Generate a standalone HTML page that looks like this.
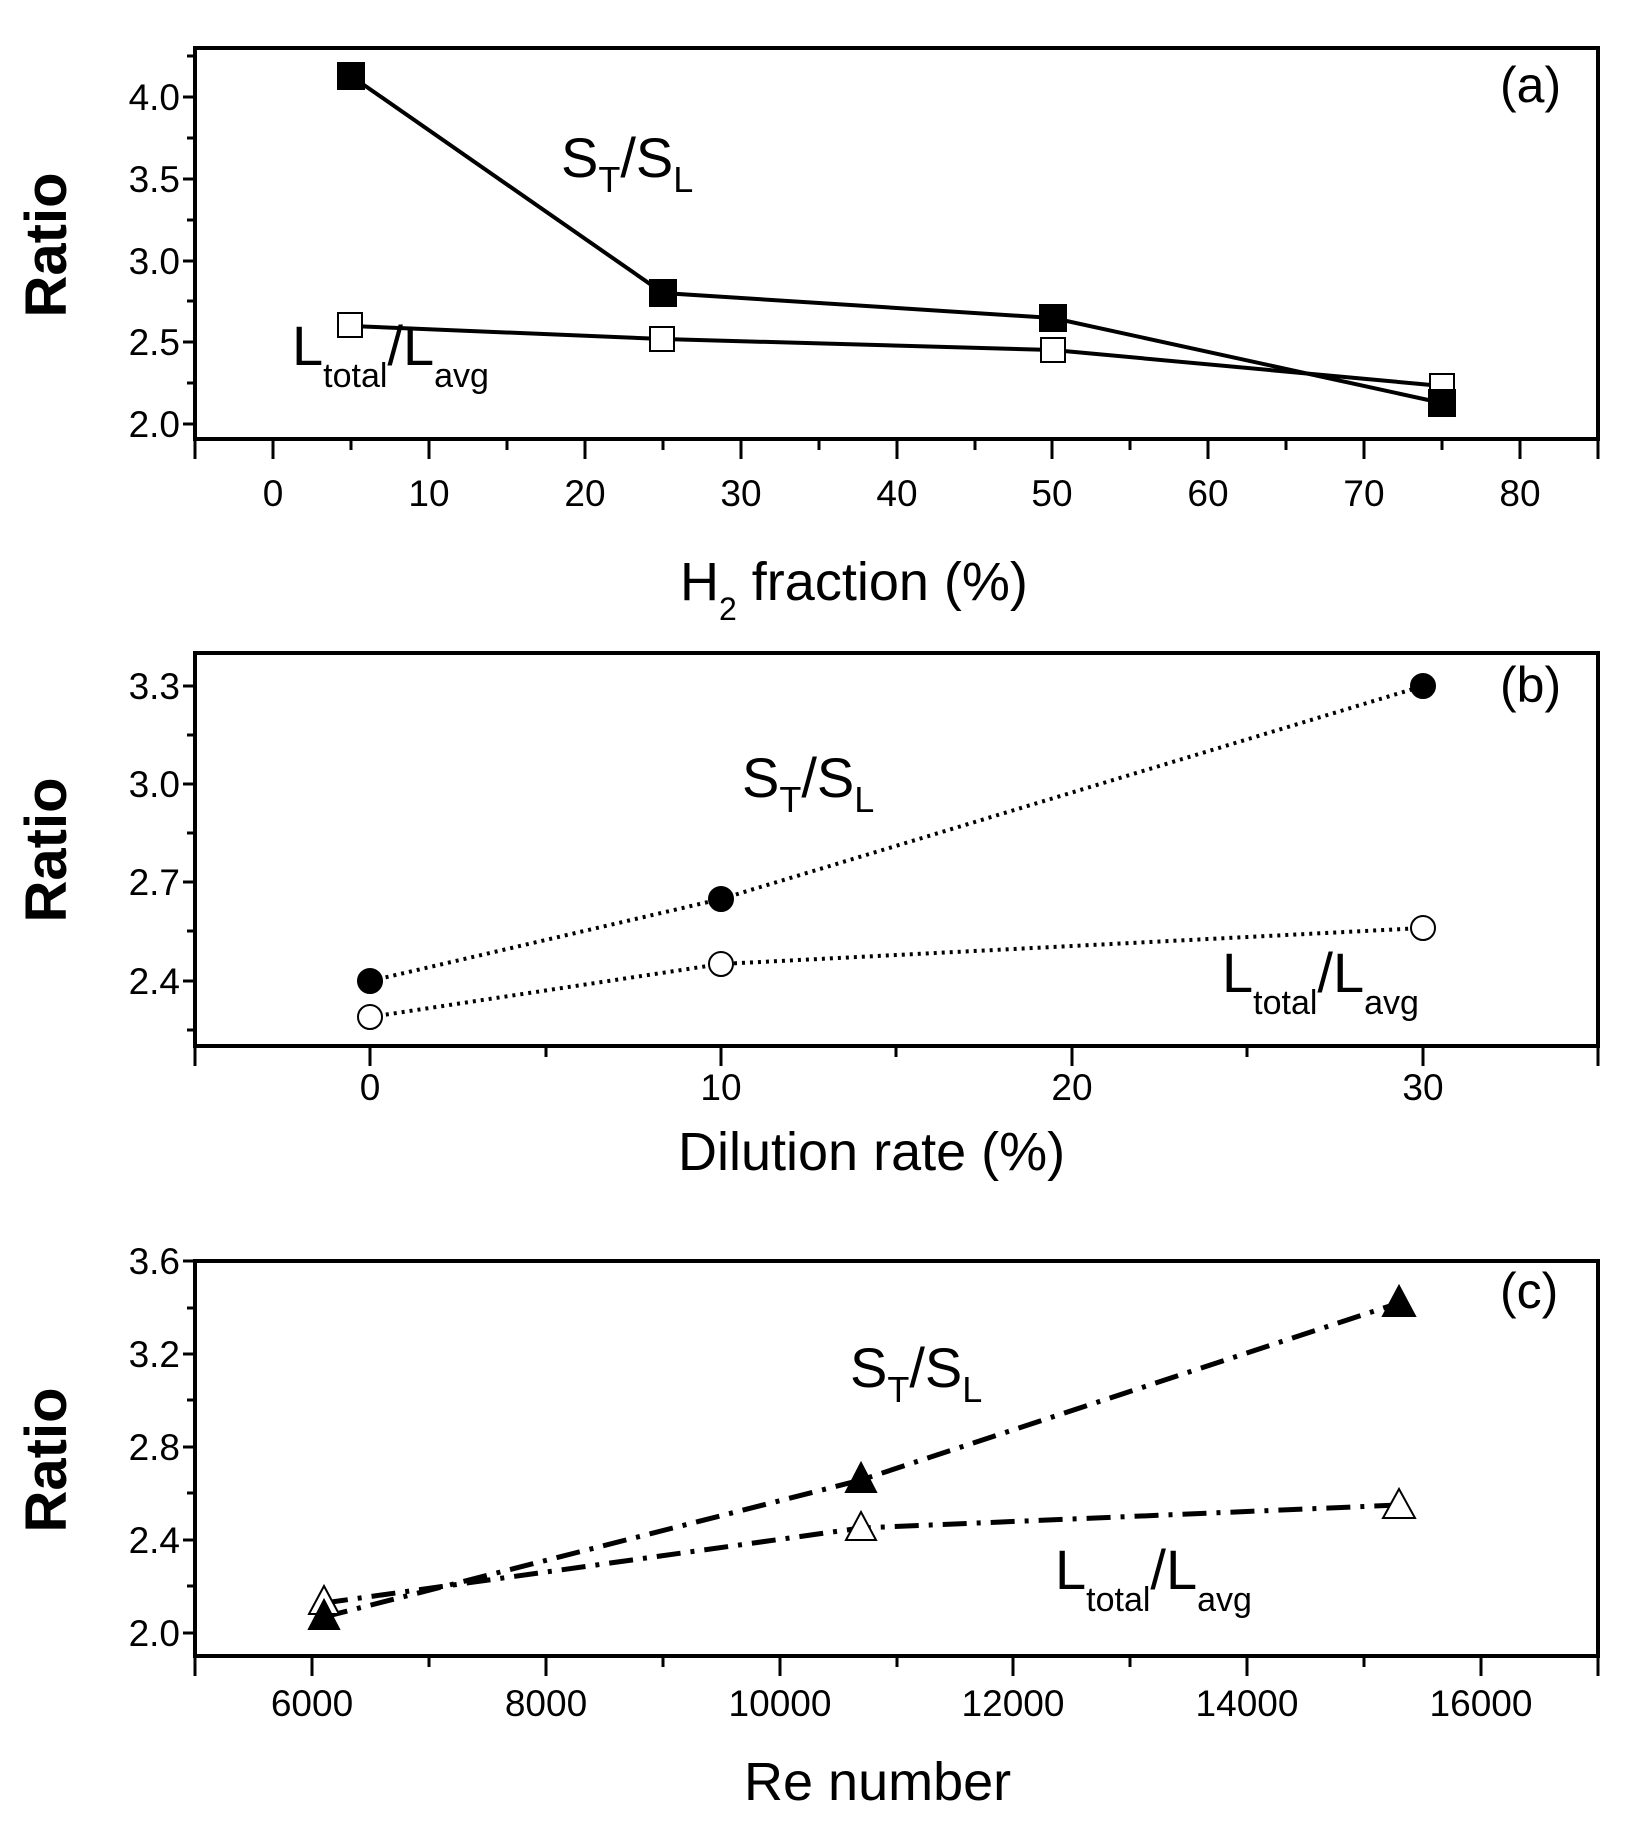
<!DOCTYPE html>
<html><head><meta charset="utf-8"><style>
html,body{margin:0;padding:0;background:#fff;}
svg{display:block;}
text{font-family:"Liberation Sans",sans-serif;fill:#000;}
.t{font-size:37px;}
.ax{font-size:54px;}
</style></head><body>
<svg width="1644" height="1840" viewBox="0 0 1644 1840" xmlns="http://www.w3.org/2000/svg">
<g stroke="#000" fill="none">
<rect x="195" y="48" width="1403" height="391" stroke-width="4"/>
<rect x="195" y="653" width="1403" height="393" stroke-width="4"/>
<rect x="195" y="1261" width="1403" height="395" stroke-width="4"/>
<g stroke-width="3">
<path d="M273 439v20M429 439v20M585 439v20M741 439v20M897 439v20M1052 439v20M1208 439v20M1364 439v20M1520 439v20M195 439v20M1598 439v20"/>
<path d="M351 439v11M507 439v11M663 439v11M819 439v11M975 439v11M1130 439v11M1286 439v11M1442 439v11"/>
<path d="M195 97h-12M195 179h-12M195 261h-12M195 342h-12M195 424h-12M195 56h-8M195 138h-8M195 220h-8M195 301h-8M195 383h-8"/>
<path d="M370 1046v20M721 1046v20M1072 1046v20M1423 1046v20M195 1046v20M1598 1046v20"/>
<path d="M546 1046v11M896 1046v11M1247 1046v11"/>
<path d="M195 686h-12M195 784h-12M195 882h-12M195 981h-12M195 735h-8M195 833h-8M195 931h-8M195 1030h-8"/>
<path d="M312 1656v20M546 1656v20M780 1656v20M1013 1656v20M1247 1656v20M1481 1656v20M195 1656v20M1598 1656v20"/>
<path d="M429 1656v11M663 1656v11M897 1656v11M1130 1656v11M1364 1656v11"/>
<path d="M195 1261h-12M195 1354h-12M195 1447h-12M195 1540h-12M195 1633h-12M195 1308h-8M195 1400h-8M195 1493h-8M195 1586h-8"/>
</g>
<polyline points="351,76 663,293 1053,318 1442,403" stroke-width="4"/>
<polyline points="351,326 663,339 1053,350 1442,386" stroke-width="4"/>
<polyline points="370,981 721,899 1423,686" stroke-width="4" stroke-dasharray="3 5"/>
<polyline points="370,1017 721,964 1423,928" stroke-width="4" stroke-dasharray="3 5"/>
<polyline points="324,1617 861,1480 1399,1303" stroke-width="5" stroke-dasharray="24 10 4 10"/>
<polyline points="324,1603 861,1528 1399,1505" stroke-width="5" stroke-dasharray="24 10 4 10"/>
</g>
<g stroke="#000" stroke-width="2">
<rect x="338" y="63" width="26" height="26" fill="#000"/>
<rect x="650" y="280" width="26" height="26" fill="#000"/>
<rect x="1040" y="305" width="26" height="26" fill="#000"/>
<rect x="338" y="313" width="24" height="24" fill="#fff"/>
<rect x="650" y="327" width="24" height="24" fill="#fff"/>
<rect x="1041" y="338" width="24" height="24" fill="#fff"/>
<rect x="1430" y="374" width="24" height="24" fill="#fff"/>
<rect x="1429" y="390" width="26" height="26" fill="#000"/>
<circle cx="370" cy="981" r="12" fill="#000"/>
<circle cx="721" cy="899" r="12" fill="#000"/>
<circle cx="1423" cy="686" r="12" fill="#000"/>
<circle cx="370" cy="1017" r="12" fill="#fff"/>
<circle cx="721" cy="964" r="12" fill="#fff"/>
<circle cx="1423" cy="928" r="12" fill="#fff"/>
<path d="M324 1586l15 28h-30z" fill="#fff"/>
<path d="M861 1512l15 28h-30z" fill="#fff"/>
<path d="M1399 1489l16 29h-32z" fill="#fff"/>
<path d="M324 1600l15 29h-30z" fill="#000"/>
<path d="M861 1463l15 29h-30z" fill="#000"/>
<path d="M1399 1286l16 30h-32z" fill="#000"/>
</g>
<g class="t" text-anchor="middle">
<text x="273" y="506">0</text><text x="429" y="506">10</text><text x="585" y="506">20</text><text x="741" y="506">30</text><text x="897" y="506">40</text><text x="1052" y="506">50</text><text x="1208" y="506">60</text><text x="1364" y="506">70</text><text x="1520" y="506">80</text>
<text x="370" y="1100">0</text><text x="721" y="1100">10</text><text x="1072" y="1100">20</text><text x="1423" y="1100">30</text>
<text x="312" y="1716">6000</text><text x="546" y="1716">8000</text><text x="780" y="1716">10000</text><text x="1013" y="1716">12000</text><text x="1247" y="1716">14000</text><text x="1481" y="1716">16000</text>
</g>
<g class="t" text-anchor="end">
<text x="180" y="110">4.0</text><text x="180" y="192">3.5</text><text x="180" y="274">3.0</text><text x="180" y="355">2.5</text><text x="180" y="437">2.0</text>
<text x="180" y="699">3.3</text><text x="180" y="797">3.0</text><text x="180" y="895">2.7</text><text x="180" y="994">2.4</text>
<text x="180" y="1274">3.6</text><text x="180" y="1367">3.2</text><text x="180" y="1460">2.8</text><text x="180" y="1553">2.4</text><text x="180" y="1646">2.0</text>
</g>
<g font-size="58" font-weight="bold" text-anchor="middle">
<text transform="translate(66,245) rotate(-90)">Ratio</text>
<text transform="translate(66,850) rotate(-90)">Ratio</text>
<text transform="translate(66,1460) rotate(-90)">Ratio</text>
</g>
<g class="ax">
<text x="680" y="600">H<tspan font-size="32" dy="20">2</tspan><tspan dy="-20"> fraction (%)</tspan></text>
<text x="678" y="1170">Dilution rate (%)</text>
<text x="744" y="1800">Re number</text>
</g>
<g font-size="50">
<text x="1500" y="102">(a)</text>
<text x="1500" y="702">(b)</text>
<text x="1500" y="1308">(c)</text>
</g>
<g font-size="56">
<text x="561" y="177">S<tspan font-size="36" dy="15">T</tspan><tspan dy="-15">/S</tspan><tspan font-size="36" dy="15">L</tspan></text>
<text x="292" y="365">L<tspan font-size="34" dy="22">total</tspan><tspan dy="-22">/L</tspan><tspan font-size="34" dy="22">avg</tspan></text>
<text x="742" y="797">S<tspan font-size="36" dy="15">T</tspan><tspan dy="-15">/S</tspan><tspan font-size="36" dy="15">L</tspan></text>
<text x="1222" y="992">L<tspan font-size="34" dy="22">total</tspan><tspan dy="-22">/L</tspan><tspan font-size="34" dy="22">avg</tspan></text>
<text x="850" y="1387">S<tspan font-size="36" dy="15">T</tspan><tspan dy="-15">/S</tspan><tspan font-size="36" dy="15">L</tspan></text>
<text x="1055" y="1589">L<tspan font-size="34" dy="22">total</tspan><tspan dy="-22">/L</tspan><tspan font-size="34" dy="22">avg</tspan></text>
</g>
</svg>
</body></html>
